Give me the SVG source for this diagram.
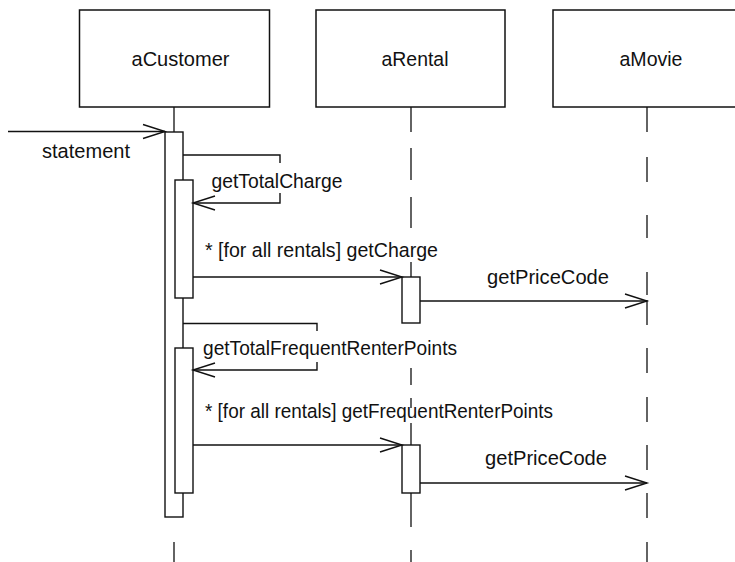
<svg xmlns="http://www.w3.org/2000/svg" width="735" height="562" viewBox="0 0 735 562">
  <style>
    .box { fill: #fff; stroke: #111; stroke-width: 1.5; }
    .act { fill: #fff; stroke: #111; stroke-width: 1.4; }
    .life { stroke: #111; stroke-width: 1.3; fill: none; }
    .msg { stroke: #111; stroke-width: 1.4; fill: none; marker-end: url(#open); }
    .mask { fill: #fff; stroke: none; }
    text { font-family: "Liberation Sans", Arial, sans-serif; font-size: 20.5px; fill: #111; }
  </style>
  <defs>
    <marker id="open" markerUnits="userSpaceOnUse" markerWidth="30" markerHeight="20" viewBox="-24 -10 26 20" refX="0" refY="0" orient="auto" overflow="visible">
      <path d="M-22,-7 L0,0 L-22,7" fill="none" stroke="#111" stroke-width="1.4"/>
    </marker>
  </defs>
  <rect width="735" height="562" fill="#fff"/>

  <!-- lifelines -->
  <g id="lifelines">
    <path class="life" d="M174,107 V132 M174,542 V562"/>
    <path class="life" d="M411,107 V132 M411,148 V180 M411,197 V228 M411,262 V277 M411,368 V385 M411,398 V408 M411,423 V445 M411,493 V527 M411,550 V562"/>
    <path class="life" d="M647,107 V132 M647,157 V182 M647,215 V238 M647,272 V295 M647,300 V325 M647,348 V373 M647,397 V422 M647,445 V470 M647,493 V518 M647,542 V562"/>
  </g>

  <!-- objects -->
  <g id="aCustomer">
    <rect class="box" x="79.5" y="10" width="190" height="97"/>
    <text x="131.5" y="66" textLength="98" lengthAdjust="spacingAndGlyphs">aCustomer</text>
    <rect class="act" x="165" y="132" width="18" height="385"/>
    <rect class="act" x="175" y="180" width="18" height="118"/>
    <rect class="act" x="175" y="348" width="18" height="145"/>
  </g>
  <g id="aRental">
    <rect class="box" x="316" y="10" width="189" height="97"/>
    <text x="381.5" y="66" textLength="67" lengthAdjust="spacingAndGlyphs">aRental</text>
    <rect class="act" x="402" y="277" width="18" height="46"/>
    <rect class="act" x="402" y="445" width="18" height="48"/>
  </g>
  <g id="aMovie">
    <rect class="box" x="553" y="10" width="190" height="97"/>
    <text x="619.5" y="66" textLength="63" lengthAdjust="spacingAndGlyphs">aMovie</text>
  </g>

  <!-- messages -->
  <g id="connectors">
    <path class="msg" d="M8,131.5 H165"/>
    <path class="msg" d="M183,155 H280 V203 H193"/>
    <path class="msg" d="M193,277 H402"/>
    <path class="msg" d="M420,301 H647"/>
    <path class="msg" d="M183,323.5 H317 V370 H193"/>
    <path class="msg" d="M193,445 H402"/>
    <path class="msg" d="M420,483 H647"/>
  </g>

  <g id="labels">
    <!-- self-call labels sit on a white backing that breaks the loop line -->
    <rect class="mask" x="209" y="163" width="136" height="30"/>
    <rect class="mask" x="201" y="331" width="259" height="31"/>
    <text x="42" y="158" textLength="88" lengthAdjust="spacingAndGlyphs">statement</text>
    <text x="211.5" y="188" textLength="131" lengthAdjust="spacingAndGlyphs">getTotalCharge</text>
    <text x="205" y="257" textLength="233" lengthAdjust="spacingAndGlyphs">* [for all rentals] getCharge</text>
    <text x="487" y="284" textLength="122" lengthAdjust="spacingAndGlyphs">getPriceCode</text>
    <text x="203" y="355" textLength="254" lengthAdjust="spacingAndGlyphs">getTotalFrequentRenterPoints</text>
    <text x="205" y="418" textLength="348" lengthAdjust="spacingAndGlyphs">* [for all rentals] getFrequentRenterPoints</text>
    <text x="485" y="465" textLength="122" lengthAdjust="spacingAndGlyphs">getPriceCode</text>
  </g>
</svg>
